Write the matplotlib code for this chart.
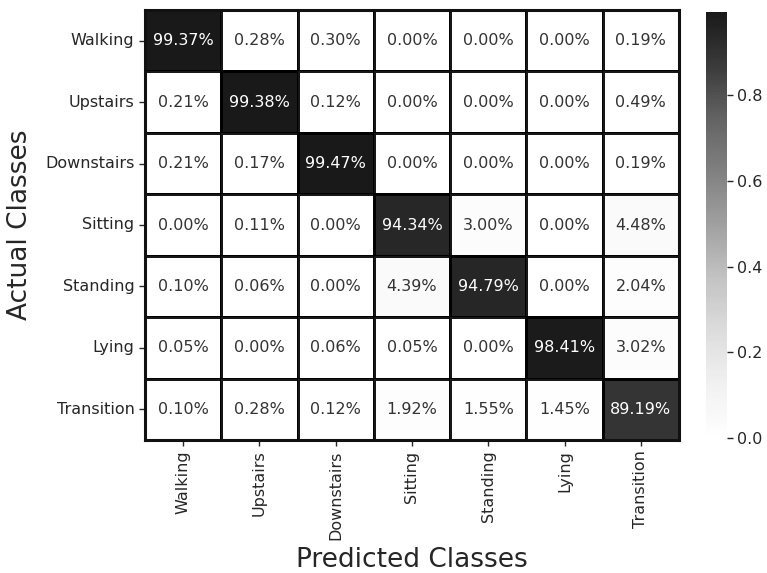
import numpy as np
import matplotlib
matplotlib.use("Agg")
import matplotlib.pyplot as plt
import seaborn as sns

classes = ["Walking", "Upstairs", "Downstairs", "Sitting", "Standing", "Lying", "Transition"]

# confusion matrix in percent (rows = actual, cols = predicted)
walking    = [99.37, 0.28, 0.30, 0.00, 0.00, 0.00, 0.19]
upstairs   = [0.21, 99.38, 0.12, 0.00, 0.00, 0.00, 0.49]
downstairs = [0.21, 0.17, 99.47, 0.00, 0.00, 0.00, 0.19]
sitting    = [0.00, 0.11, 0.00, 94.34, 3.00, 0.00, 4.48]
standing   = [0.10, 0.06, 0.00, 4.39, 94.79, 0.00, 2.04]
lying      = [0.05, 0.00, 0.06, 0.05, 0.00, 98.41, 3.02]
transition = [0.10, 0.28, 0.12, 1.92, 1.55, 1.45, 89.19]

cm_pct = np.array([walking, upstairs, downstairs, sitting, standing, lying, transition])
cm = cm_pct / 100.0
labels = np.array([[f"{v:.2f}%" for v in row] for row in cm_pct])

sns.set_style("ticks")
plt.rcParams["font.family"] = ["DejaVu Sans"]

fig = plt.figure(figsize=(7.67, 5.73), dpi=100)
ax = fig.add_axes([145 / 767, 1 - 440 / 573, 534 / 767, 430 / 573])
cax = fig.add_axes([706 / 767, 1 - 438 / 573, 21 / 767, 426 / 573])

sns.heatmap(cm, annot=labels, fmt="", cmap="Greys", alpha=0.9,
            linewidths=1.0, linecolor="black",
            xticklabels=classes, yticklabels=classes,
            annot_kws={"fontsize": 11.5},
            ax=ax, cbar_ax=cax)

# soften the dark annotation text on light cells
for t in ax.texts:
    if t.get_color() != "w":
        t.set_color("#333333")

for s in ax.spines.values():
    s.set_visible(True)
    s.set_linewidth(2.2)
    s.set_color("#111111")

ax.tick_params(axis="both", labelsize=11.5, length=4, width=1, colors="#262626")
plt.setp(ax.get_xticklabels(), rotation=90)
plt.setp(ax.get_yticklabels(), rotation=0)
ax.set_xlabel("Predicted Classes", fontsize=19, labelpad=5)
ax.set_ylabel("Actual Classes", fontsize=19, labelpad=9)

cax.tick_params(labelsize=11.5, length=4, width=1, colors="#262626")

fig.savefig("out.png", dpi=100)
